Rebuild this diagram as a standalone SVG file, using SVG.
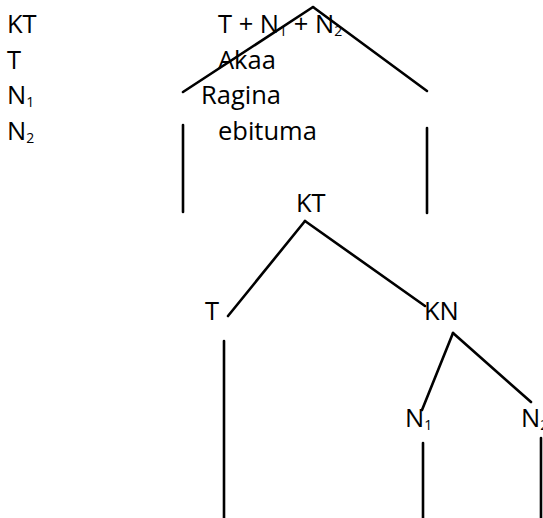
<svg xmlns="http://www.w3.org/2000/svg" width="543" height="518" viewBox="0 0 543 518">
<style>
text{font-family:"Open Sans","Noto Sans","DejaVu Sans",sans-serif;font-size:25.5px;fill:#000}
.s{font-size:14px}
line{stroke:#000;stroke-width:2.6;stroke-linecap:round}
</style>
<rect width="543" height="518" fill="#fff"/>
<g id="legend">
<text x="7" y="33">KT</text>
<text x="7" y="68.5">T</text>
<text x="7" y="104">N<tspan class="s" dy="3">1</tspan></text>
<text x="7" y="139.5">N<tspan class="s" dy="3">2</tspan></text>
</g>
<g id="formula">
<text x="218" y="33">T + N<tspan class="s" dy="3">1</tspan><tspan dy="-3"> + N</tspan><tspan class="s" dy="3">2</tspan></text>
<text x="218" y="68.5">Akaa</text>
<text x="201" y="104">Ragina</text>
<text x="218" y="139.5">ebituma</text>
</g>
<g id="node-KT"><text x="296" y="212">KT</text></g>
<g id="node-T"><text x="205" y="320">T</text></g>
<g id="node-KN"><text x="424" y="320">KN</text></g>
<g id="node-N1"><text x="405" y="427">N<tspan class="s" dy="3">1</tspan></text></g>
<g id="node-N2"><text x="521" y="427">N<tspan class="s" dy="3">2</tspan></text></g>
<g id="connectors">
<line x1="183" y1="92" x2="313" y2="7"/>
<line x1="313" y1="7" x2="427" y2="91"/>
<line x1="183" y1="125" x2="183" y2="212"/>
<line x1="427" y1="128" x2="427" y2="213"/>
<line x1="305" y1="221" x2="228" y2="316"/>
<line x1="305" y1="221" x2="425" y2="306"/>
<line x1="453" y1="333" x2="422" y2="410"/>
<line x1="453" y1="333" x2="531" y2="402"/>
<line x1="224" y1="341" x2="224" y2="520"/>
<line x1="423" y1="443" x2="423" y2="520"/>
<line x1="541" y1="438" x2="541" y2="520"/>
</g>
</svg>
